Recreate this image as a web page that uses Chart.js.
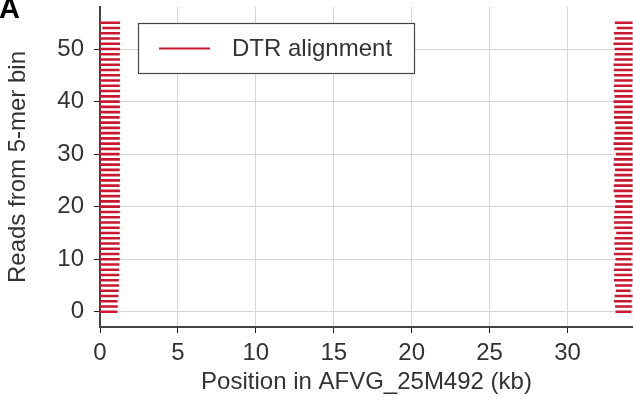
<!DOCTYPE html>
<html>
<head>
<meta charset="utf-8">
<script src="https://cdn.jsdelivr.net/npm/chart.js@4/dist/chart.umd.min.js"></script>
<style>
  html, body { margin: 0; padding: 0; background: #fff; }
  #wrap { width: 633px; height: 399px; position: relative; }
</style>
</head>
<body>
<div id="wrap"><canvas id="dtrChart"></canvas></div>
<script>
// reads per 5-mer bin (one short segment per read)
const readIndex = [0, 1, 2, 3, 4, 5, 6, 7, 8, 9, 10, 11, 12, 13, 14, 15, 16, 17, 18, 19,
  20, 21, 22, 23, 24, 25, 26, 27, 28, 29, 30, 31, 32, 33, 34, 35, 36, 37, 38, 39,
  40, 41, 42, 43, 44, 45, 46, 47, 48, 49, 50, 51, 52, 53, 54, 55];

// left DTR copy (kb)
const leftStart = [0, 0, 0, 0, 0, 0, 0, 0, 0, 0, 0, 0, 0, 0, 0, 0, 0, 0, 0, 0,
  0, 0, 0, 0, 0, 0, 0, 0, 0, 0, 0, 0, 0, 0, 0, 0, 0, 0, 0, 0,
  0, 0, 0, 0, 0, 0, 0, 0, 0, 0, 0, 0, 0, 0, 0.15, 0];
const leftEnd = [1.12, 1.14, 1.13, 1.18, 1.2, 1.22, 1.2, 1.24, 1.22, 1.25, 1.27, 1.25, 1.28, 1.26, 1.28, 1.27, 1.26, 1.28, 1.28, 1.27,
  1.28, 1.27, 1.28, 1.28, 1.26, 1.28, 1.28, 1.27, 1.28, 1.28, 1.26, 1.28, 1.28, 1.27, 1.28, 1.28, 1.28, 1.26, 1.28, 1.28,
  1.27, 1.28, 1.28, 1.27, 1.28, 1.28, 1.26, 1.28, 1.28, 1.27, 1.28, 1.28, 1.27, 1.28, 1.28, 1.28];

// right DTR copy (kb)
const rightStart = [33.08, 33.05, 32.98, 33.02, 33.1, 33.05, 32.98, 33.0, 32.98, 33.02, 33.08, 32.98, 33.05, 33.0, 33.02, 33.12, 33.0, 32.98, 32.98, 33.0,
  33.05, 33.08, 33.02, 32.95, 32.98, 33.02, 33.0, 33.05, 32.95, 32.98, 33.1, 33.0, 32.95, 33.0, 33.0, 33.08, 33.02, 32.98, 32.98, 33.0,
  32.95, 33.02, 32.98, 32.98, 33.0, 32.98, 32.98, 32.95, 33.0, 33.02, 33.02, 32.95, 33.02, 32.98, 33.15, 33.03];
const rightEnd = [34.1, 34.15, 34.12, 34.18, 34.05, 34.15, 34.18, 34.15, 34.12, 34.18, 34.1, 34.18, 34.15, 34.18, 34.18, 34.18, 34.15, 34.18, 34.18, 34.15,
  34.18, 34.18, 34.15, 34.18, 34.18, 34.18, 34.15, 34.18, 34.18, 34.18, 34.18, 34.15, 34.18, 34.18, 34.18, 34.18, 34.18, 34.15, 34.18, 34.18,
  34.18, 34.18, 34.18, 34.15, 34.18, 34.18, 34.18, 34.18, 34.18, 34.18, 34.18, 34.18, 34.18, 34.18, 34.18, 34.18];

const xTicks = [0, 5, 10, 15, 20, 25, 30];
const yTicks = [0, 10, 20, 30, 40, 50];

const seriesLabel = 'DTR alignment';
const dtrRed = '#c8192f';
const textColor = '#333333';
const fontFamily = "'Liberation Sans', Arial, Helvetica, sans-serif";

// segments joined into one line dataset, broken by null points
function buildSegments(starts, ends) {
  const pts = [];
  readIndex.forEach((y, i) => {
    pts.push({ x: starts[i], y: y });
    pts.push({ x: ends[i], y: y });
    pts.push({ x: ends[i], y: null });
  });
  return pts;
}

const panelAndLegend = {
  id: 'panelAndLegend',
  afterDatasetsDraw(chart) {
    const ctx = chart.ctx;
    ctx.save();
    // legend box
    ctx.fillStyle = '#ffffff';
    ctx.fillRect(138.5, 23.5, 276, 50);
    ctx.strokeStyle = '#444444';
    ctx.lineWidth = 1.2;
    ctx.strokeRect(138.5, 23.5, 276, 50);
    ctx.strokeStyle = dtrRed;
    ctx.lineWidth = 2;
    ctx.beginPath();
    ctx.moveTo(159, 48.5);
    ctx.lineTo(210, 48.5);
    ctx.stroke();
    ctx.fillStyle = textColor;
    ctx.font = '24px ' + fontFamily;
    ctx.textBaseline = 'middle';
    ctx.textAlign = 'left';
    ctx.fillText(seriesLabel, 232, 49);
    // panel letter
    ctx.fillStyle = '#000000';
    ctx.font = 'bold 29px ' + fontFamily;
    ctx.textBaseline = 'alphabetic';
    ctx.fillText('A', -1, 18);
    ctx.restore();
  }
};

const ctx = document.getElementById('dtrChart').getContext('2d');
new Chart(ctx, {
  type: 'line',
  data: {
    datasets: [
      { label: seriesLabel, data: buildSegments(leftStart, leftEnd), borderColor: dtrRed, borderWidth: 2.6, pointRadius: 0, spanGaps: false, borderCapStyle: 'butt' },
      { label: seriesLabel, data: buildSegments(rightStart, rightEnd), borderColor: dtrRed, borderWidth: 2.6, pointRadius: 0, spanGaps: false, borderCapStyle: 'butt' }
    ]
  },
  options: {
    responsive: true,
    maintainAspectRatio: false,
    animation: false,
    layout: { padding: { top: 7, right: 0, left: 0, bottom: 0 } },
    plugins: { legend: { display: false }, tooltip: { enabled: false } },
    scales: {
      x: {
        type: 'linear',
        min: 0,
        max: 34.2,
        afterBuildTicks: s => { s.ticks = xTicks.map(v => ({ value: v })); },
        afterFit: s => { s.height = 72; s.paddingLeft = 0; s.paddingRight = 0; },
        grid: { color: '#d6d6d6', lineWidth: 1, tickColor: '#222', tickLength: 6 },
        border: { color: '#444', width: 2 },
        ticks: { color: textColor, font: { family: fontFamily, size: 24 }, padding: 6, maxRotation: 0 },
        title: { display: true, text: 'Position in AFVG_25M492 (kb)', color: textColor, font: { family: fontFamily, size: 24 }, padding: { top: 0, bottom: 2 } }
      },
      y: {
        type: 'linear',
        min: -2.9,
        max: 58,
        afterBuildTicks: s => { s.ticks = yTicks.map(v => ({ value: v })); },
        afterFit: s => { s.width = 100; s.paddingTop = 0; s.paddingBottom = 0; },
        grid: { color: '#d6d6d6', lineWidth: 1, tickColor: '#222', tickLength: 6 },
        border: { color: '#444', width: 2 },
        ticks: { color: textColor, font: { family: fontFamily, size: 24 }, padding: 10 },
        title: { display: true, text: 'Reads from 5-mer bin', color: textColor, font: { family: fontFamily, size: 24 }, padding: { top: 4, bottom: 0 } }
      }
    }
  },
  plugins: [panelAndLegend]
});
</script>
</body>
</html>
